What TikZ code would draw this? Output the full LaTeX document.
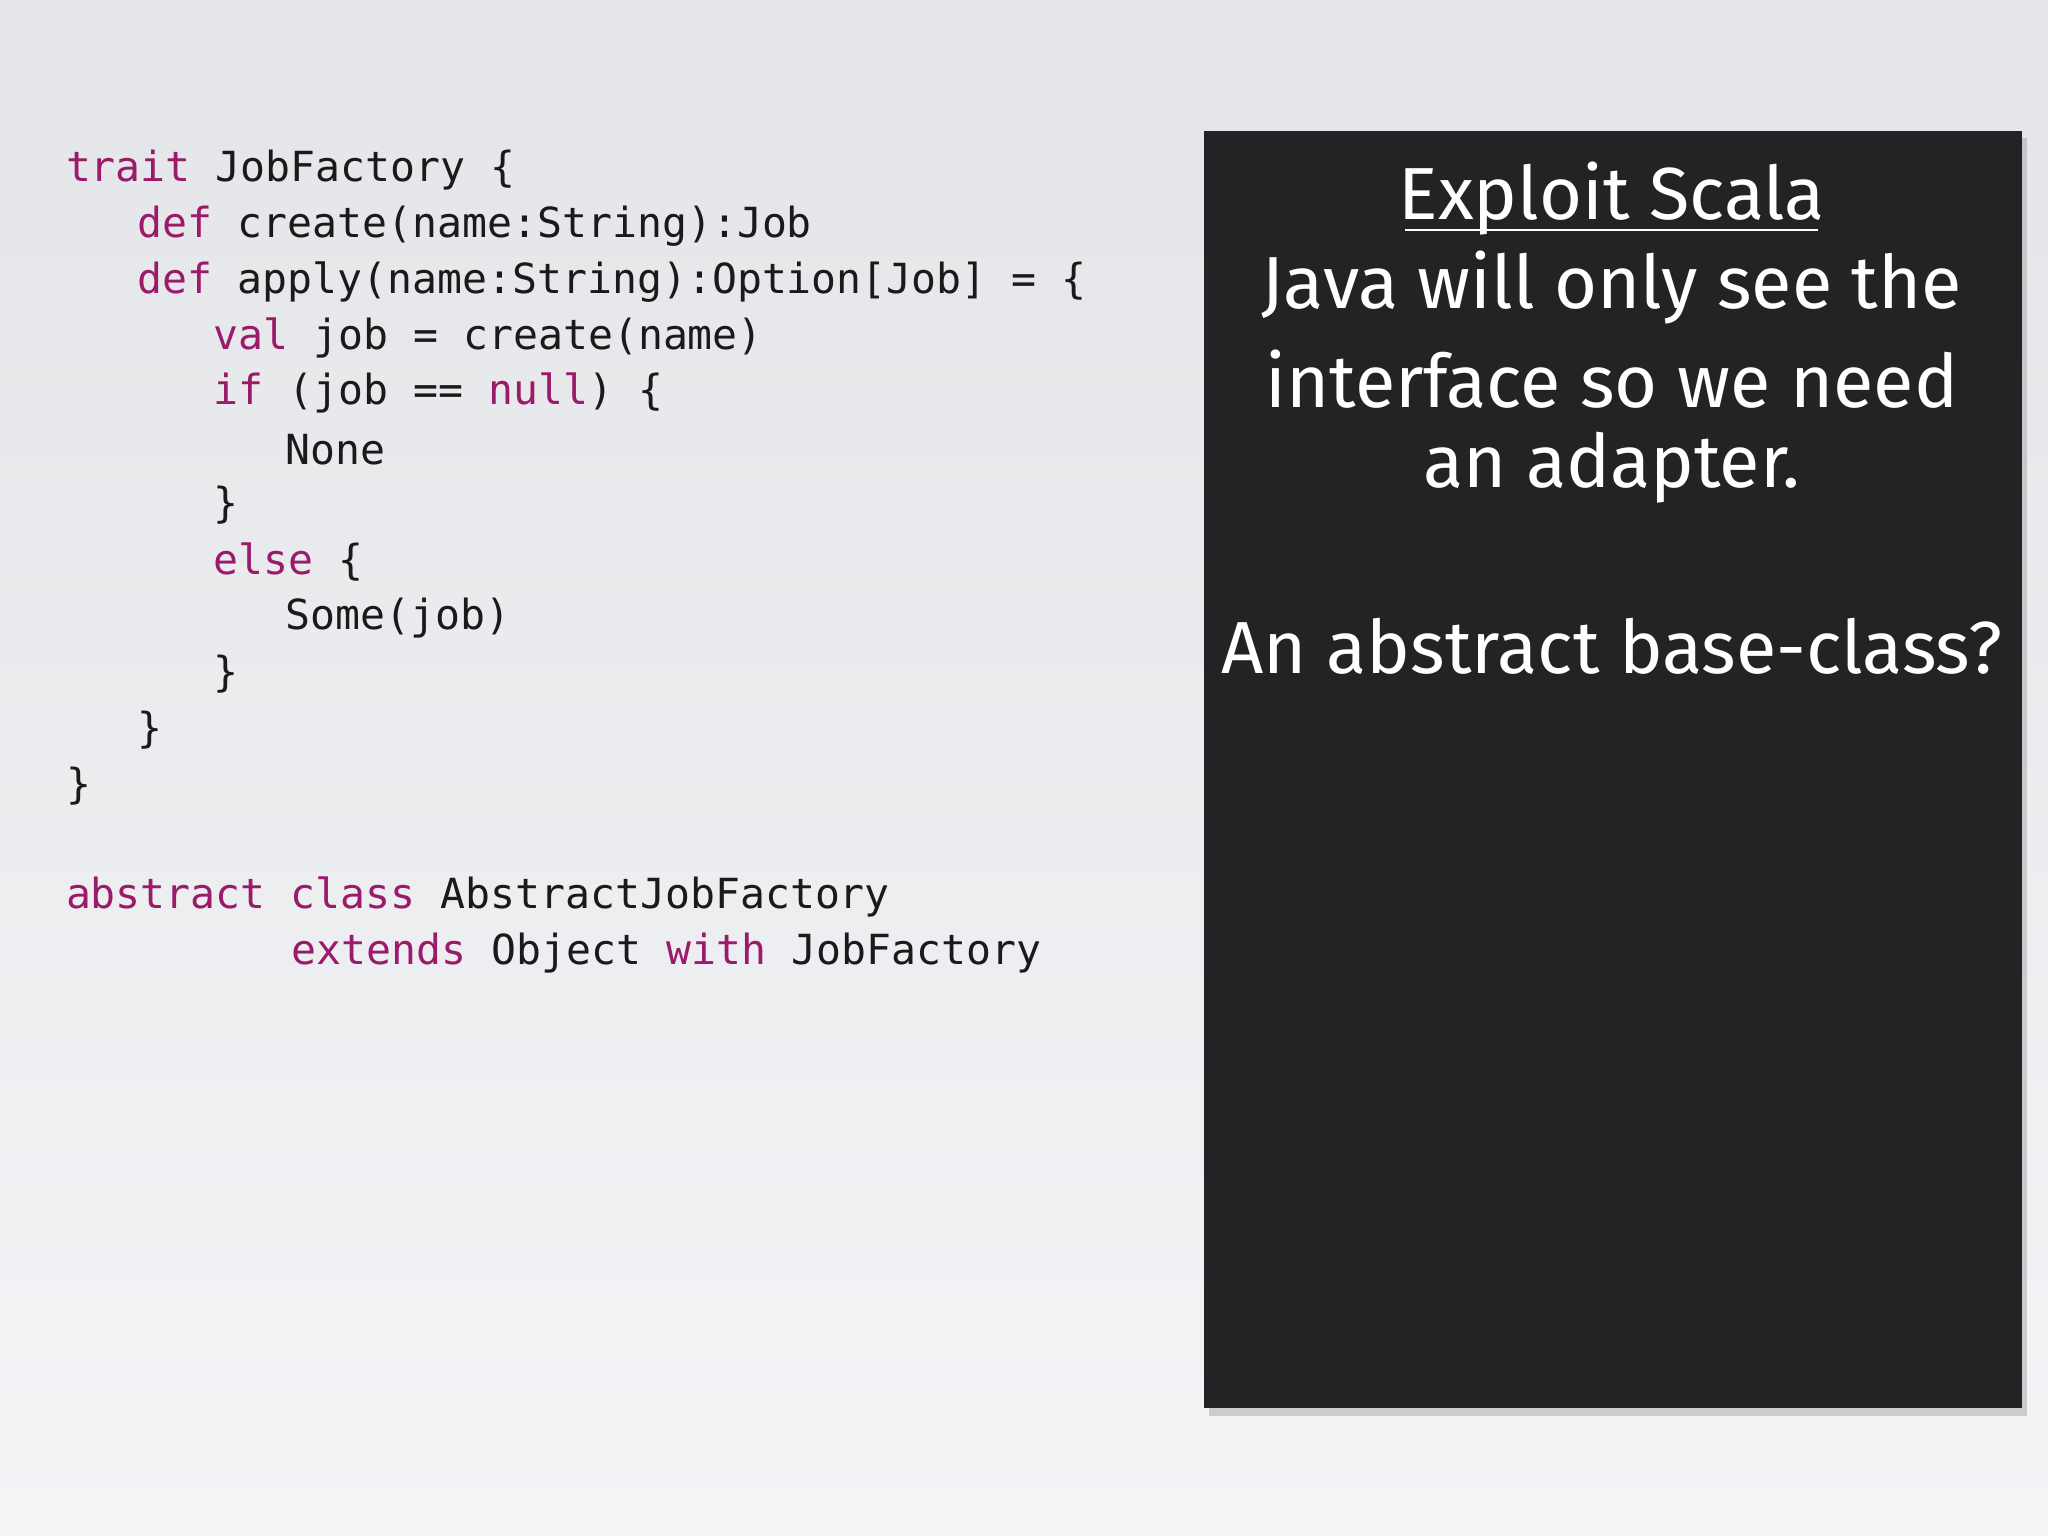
\documentclass[tikz,border=0pt]{standalone}
\usepackage{fontspec}
\setmonofont{DejaVu Sans Mono}
\newfontfamily\panelfont{Fira Sans}
\usetikzlibrary{shadows}
\definecolor{kw}{HTML}{9B1A6A}
\definecolor{panel}{HTML}{222325}
\definecolor{code}{HTML}{1A1A1A}
\newcommand{\kw}[1]{\textcolor{kw}{#1}}
\tikzset{codeline/.style={anchor=west,inner sep=0pt,font=\ttfamily\fontsize{11.8}{14}\selectfont,text=code},
 pline/.style={anchor=center,inner sep=0pt,text=white,font=\panelfont\fontsize{21}{25}\selectfont}}
\begin{document}
\begin{tikzpicture}[x=0.01306cm,y=-0.01306cm]
\shade[top color={rgb,255:red,228;green,229;blue,232},bottom color={rgb,255:red,243;green,244;blue,246}] (0,0) rectangle (1568,1176);
\useasboundingbox (0,0) rectangle (1568,1176);
\fill[black!35,opacity=0.5] (926,106) rectangle (1552,1084);
\fill[panel] (922,100) rectangle (1548,1078);
\node[codeline] (l1) at (50,130) {\kw{trait} JobFactory \{};
\node[codeline] (l2) at (105,173) {\kw{def} create(name:String):Job};
\node[codeline] (l3) at (105,216) {\kw{def} apply(name:String):Option[Job] = \{};
\node[codeline] (l4) at (163,259) {\kw{val} job = create(name)};
\node[codeline] (l5) at (163,301) {\kw{if} (job == \kw{null}) \{};
\node[codeline] (l6) at (218,344) {None};
\node[codeline] (l7) at (163,387) {\}};
\node[codeline] (l8) at (163,430) {\kw{else} \{};
\node[codeline] (l9) at (218,473) {Some(job)};
\node[codeline] (l10) at (163,516) {\}};
\node[codeline] (l11) at (105,559) {\}};
\node[codeline] (l12) at (50,602) {\}};
\node[codeline] (l13) at (50,687) {\kw{abstract class} AbstractJobFactory};
\node[codeline] (l14) at (223,730) {\kw{extends} Object \kw{with} JobFactory};
\node[pline] (t1) at (1234,152) {Exploit Scala};
\draw[white,line width=0.6pt] (1076,176) -- (1392,176);
\node[pline] (t2) at (1234,220) {Java will only see the};
\node[pline] (t3) at (1234,290) {interface so we need};
\node[pline] (t4) at (1234,358) {an adapter.};
\node[pline] (t5) at (1234,495) {An abstract base-class?};
\end{tikzpicture}
\end{document}
